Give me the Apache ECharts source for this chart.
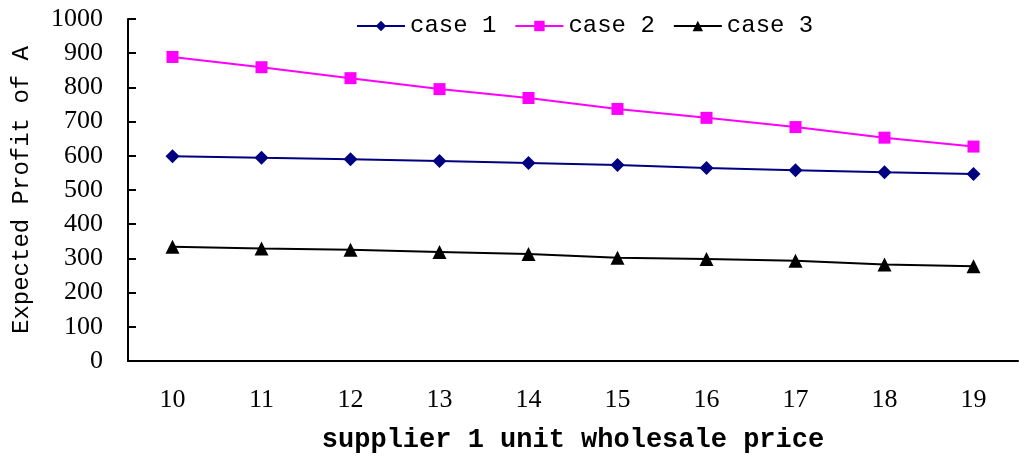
<!DOCTYPE html>
<html><head><meta charset="utf-8">
<script src="https://cdn.jsdelivr.net/npm/echarts@6/dist/echarts.min.js"></script>
<style>html,body{margin:0;padding:0;background:#fff}#c{width:1019px;height:458px}</style>
</head><body><div id="c"></div>
<script>
const categories = ['10','11','12','13','14','15','16','17','18','19'];
const case1 = [599, 594, 590, 585, 579, 573, 564, 558, 552, 547];
const case2 = [889, 859, 827, 795, 769, 737, 711, 684, 653, 627];
const case3 = [334, 329, 325, 319, 313, 302, 298, 293, 282, 277];
const seriesNames = ['case 1', 'case 2', 'case 3'];

const serif = '"Liberation Serif", "DejaVu Serif", serif';
const mono = '"Liberation Mono", "DejaVu Sans Mono", monospace';
const chart = echarts.init(document.getElementById('c'), null, {renderer: 'canvas'});
function s(name, data, color, symbol, size) {
  return {name, type: 'line', data, symbol, symbolSize: size,
    lineStyle: {color, width: 2}, itemStyle: {color}, animation: false};
}
chart.setOption({
  animation: false,
  backgroundColor: '#fff',
  legend: {
    top: 9, left: 351, itemWidth: 48, itemHeight: 13, itemGap: 18,
    textStyle: {fontFamily: mono, fontSize: 24, color: '#000'},
    data: seriesNames
  },
  grid: {left: 128, right: 1, top: 19, bottom: 97, containLabel: false, outerBoundsMode: 'none'},
  xAxis: {
    type: 'category', data: categories, boundaryGap: true,
    name: 'supplier 1 unit wholesale price', nameLocation: 'middle', nameGap: 66,
    nameTextStyle: {fontFamily: mono, fontWeight: 'bold', fontSize: 27, color: '#000'},
    axisLine: {lineStyle: {color: '#000', width: 2}},
    axisTick: {inside: true, length: 8, lineStyle: {color: '#000', width: 2}},
    axisLabel: {fontFamily: serif, fontSize: 26, color: '#000', margin: 26}
  },
  yAxis: {
    type: 'value', min: 0, max: 1000, interval: 100,
    name: 'Expected Profit of A', nameLocation: 'middle', nameGap: 94, nameRotate: 90,
    nameTextStyle: {fontFamily: mono, fontSize: 24, color: '#000'},
    axisLine: {show: true, lineStyle: {color: '#000', width: 2}},
    axisTick: {show: true, inside: true, length: 8, lineStyle: {color: '#000', width: 2}},
    axisLabel: {fontFamily: serif, fontSize: 26, color: '#000', margin: 25, formatter: v => String(v)},
    splitLine: {show: false}
  },
  series: [
    s(seriesNames[0], case1, '#000080', 'diamond', 14),
    s(seriesNames[1], case2, '#ff00ff', 'rect', 12),
    s(seriesNames[2], case3, '#000000', 'triangle', 14)
  ]
});
</script></body></html>
